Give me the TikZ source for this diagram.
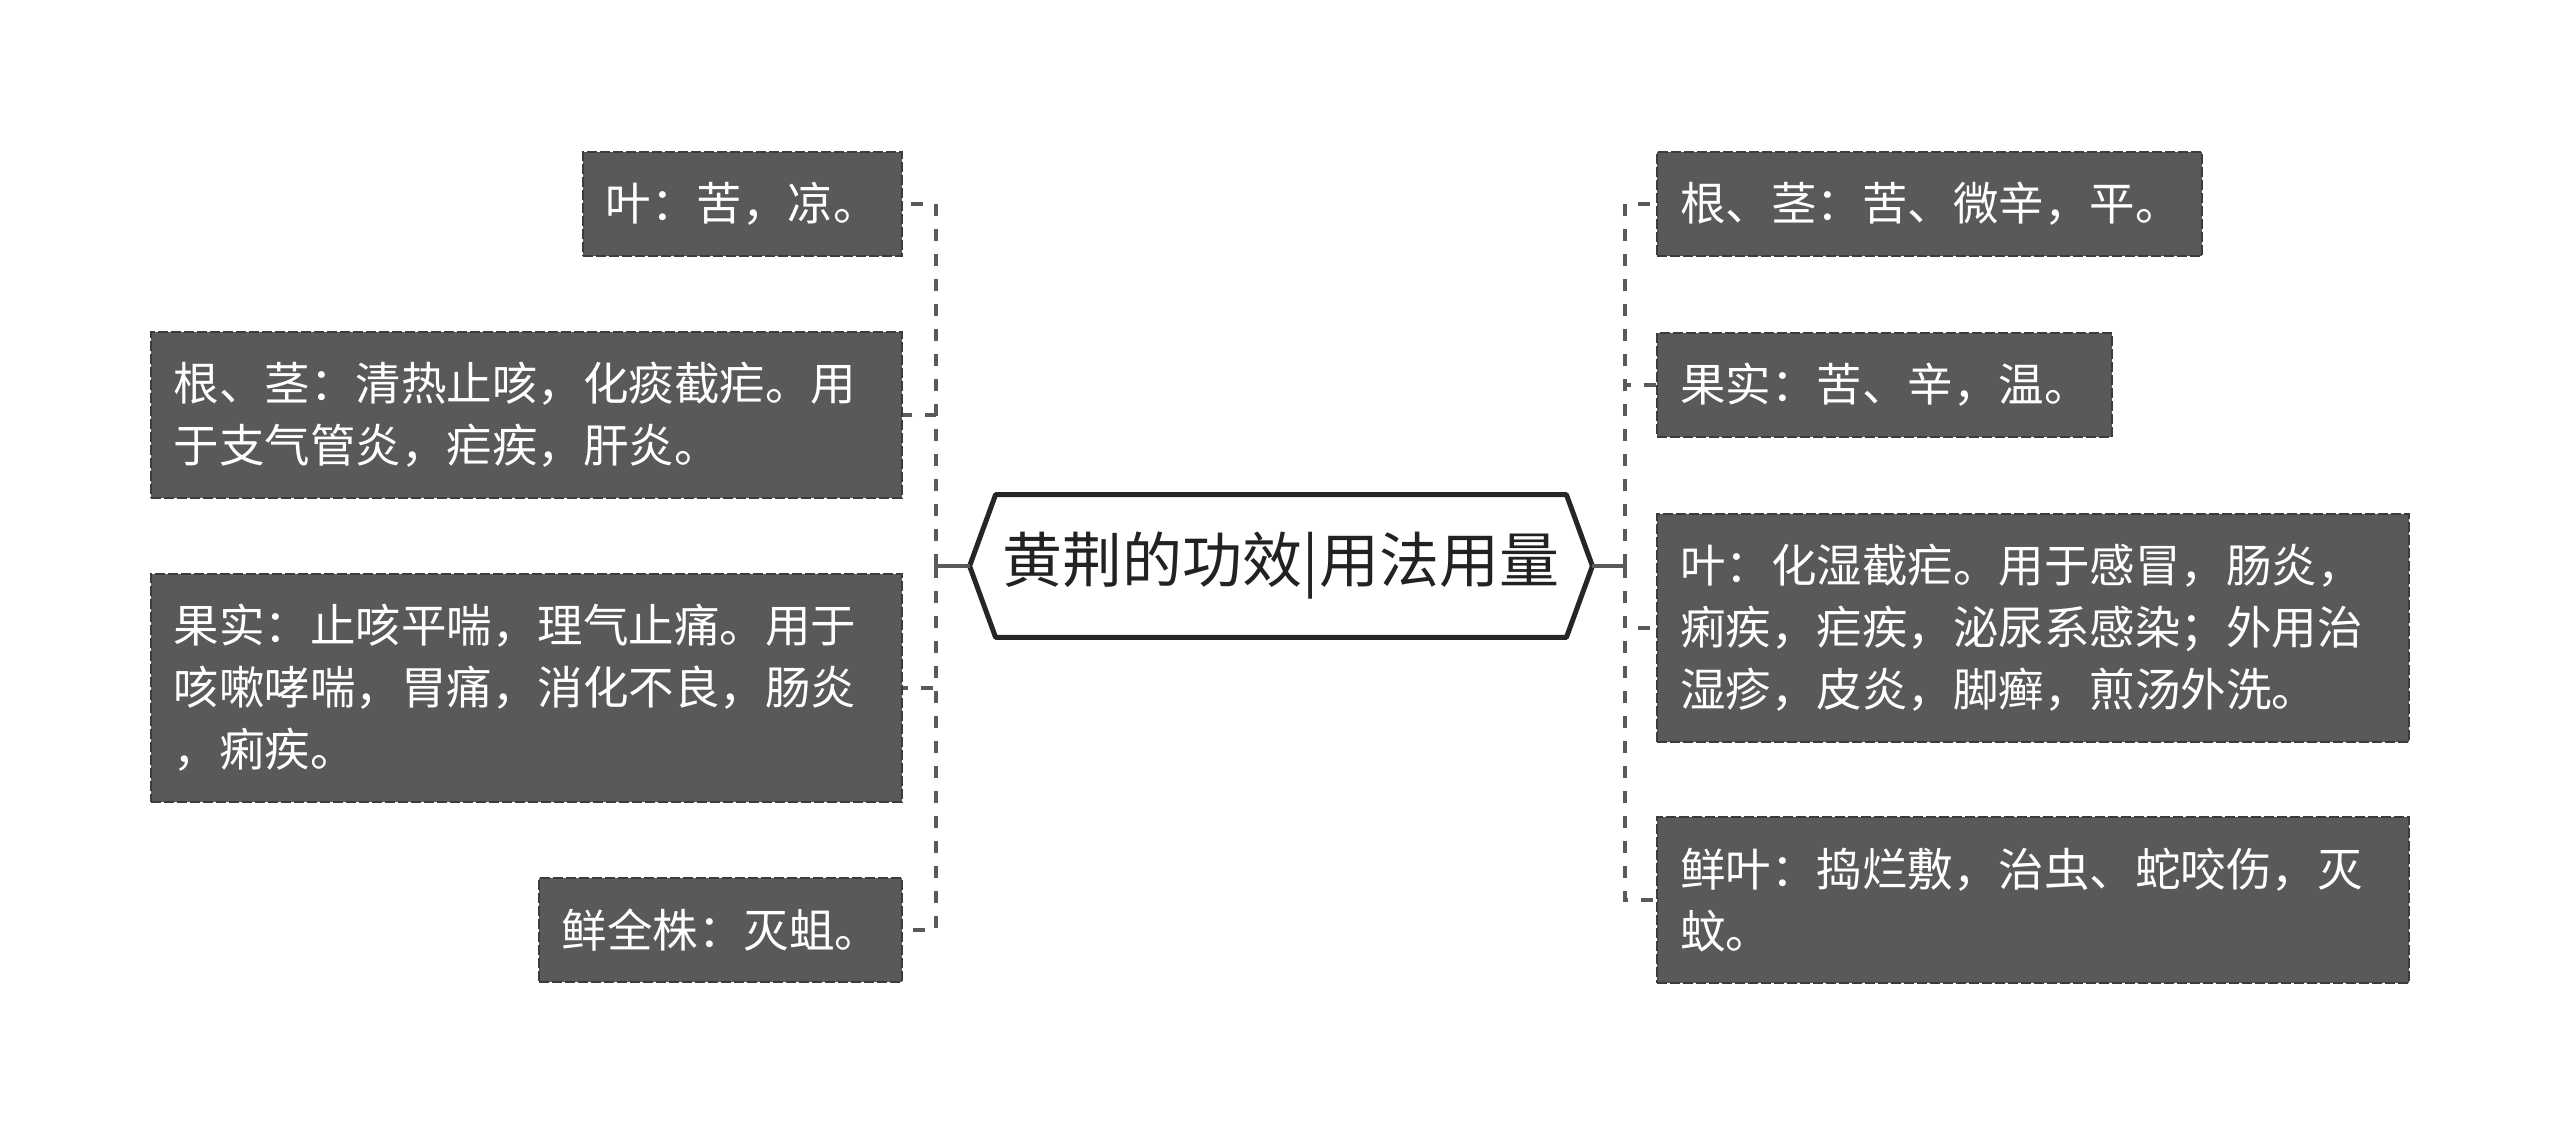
\documentclass[tikz,border=0pt]{standalone}
\usepackage{fontspec}
\usepackage{xcolor}
\usepackage{tikz}
\usetikzlibrary{positioning, calc}
\newfontfamily\cjk{Noto Sans CJK SC}
\definecolor{mmbox}{HTML}{595959}
\definecolor{mmedge}{HTML}{3C3C3C}
\definecolor{mmlink}{HTML}{5A5A5A}
\definecolor{mmhex}{HTML}{262626}
\definecolor{mmtext}{HTML}{222222}

\begin{document}
\begin{tikzpicture}[x=0.5pt, y=-0.5pt,
  leafbox/.style={rectangle, fill=mmbox, draw=mmedge, line width=1.2pt,
                  dash pattern=on 5pt off 1.5pt, text=white,
                  inner xsep=11.5pt, inner ysep=0pt, align=left,
                  font=\cjk\fontsize{22.75}{31}\selectfont},
  linkline/.style={draw=mmlink, line width=2.4pt, dash pattern=on 6pt off 6.5pt},
  stemline/.style={draw=mmlink, line width=2pt}
]
\useasboundingbox (0,0) rectangle (2560,1135);
% centre topic
\node[inner sep=0pt, minimum width=285pt, minimum height=71pt, text=mmtext,
      font=\cjk\fontsize{30}{36}\selectfont] (hub) at (1281,566) {黄荆的功效|用法用量};
\coordinate (hubw) at ([xshift=-13pt]hub.west);
\coordinate (hube) at ([xshift=13pt]hub.east);
\draw[mmhex, line width=2.5pt, line join=round]
  (hub.north west) -- (hub.north east) -- (hube) -- (hub.south east)
  -- (hub.south west) -- (hubw) -- cycle;
\coordinate (lfork) at (936,566);
\coordinate (rfork) at (1625,566);
\draw[stemline] (hubw) -- (lfork);
\draw[stemline] (hube) -- (rfork);
% left branch
\foreach \i/\y/\w/\h/\t in {%
  1/204/159.5/52/{叶：苦，凉。},%
  2/415/375.5/83/{根、茎：清热止咳，化痰截疟。用\\于支气管炎，疟疾，肝炎。},%
  3/688/375.5/114/{果实：止咳平喘，理气止痛。用于\\咳嗽哮喘，胃痛，消化不良，肠炎\\，痢疾。},%
  4/930/181.5/52/{鲜全株：灭蛆。}%
} {
  \pgfmathsetmacro{\tw}{\w-23}
  \node[leafbox, text width=\tw pt, minimum height=\h pt, anchor=east] (l\i) at (903,\y) {\t};
  \draw[linkline] (lfork) |- (l\i.east);
}
% right branch
\foreach \i/\y/\w/\h/\t in {%
  1/204/272.5/52/{根、茎：苦、微辛，平。},%
  2/385/227.5/52/{果实：苦、辛，温。},%
  3/628/376/114/{叶：化湿截疟。用于感冒，肠炎，\\痢疾，疟疾，泌尿系感染；外用治\\湿疹，皮炎，脚癣，煎汤外洗。},%
  4/900/376/83/{鲜叶：捣烂敷，治虫、蛇咬伤，灭\\蚊。}%
} {
  \pgfmathsetmacro{\tw}{\w-23}
  \node[leafbox, text width=\tw pt, minimum height=\h pt, anchor=west] (r\i) at (1656,\y) {\t};
  \draw[linkline] (rfork) |- (r\i.west);
}
\end{tikzpicture}
\end{document}
